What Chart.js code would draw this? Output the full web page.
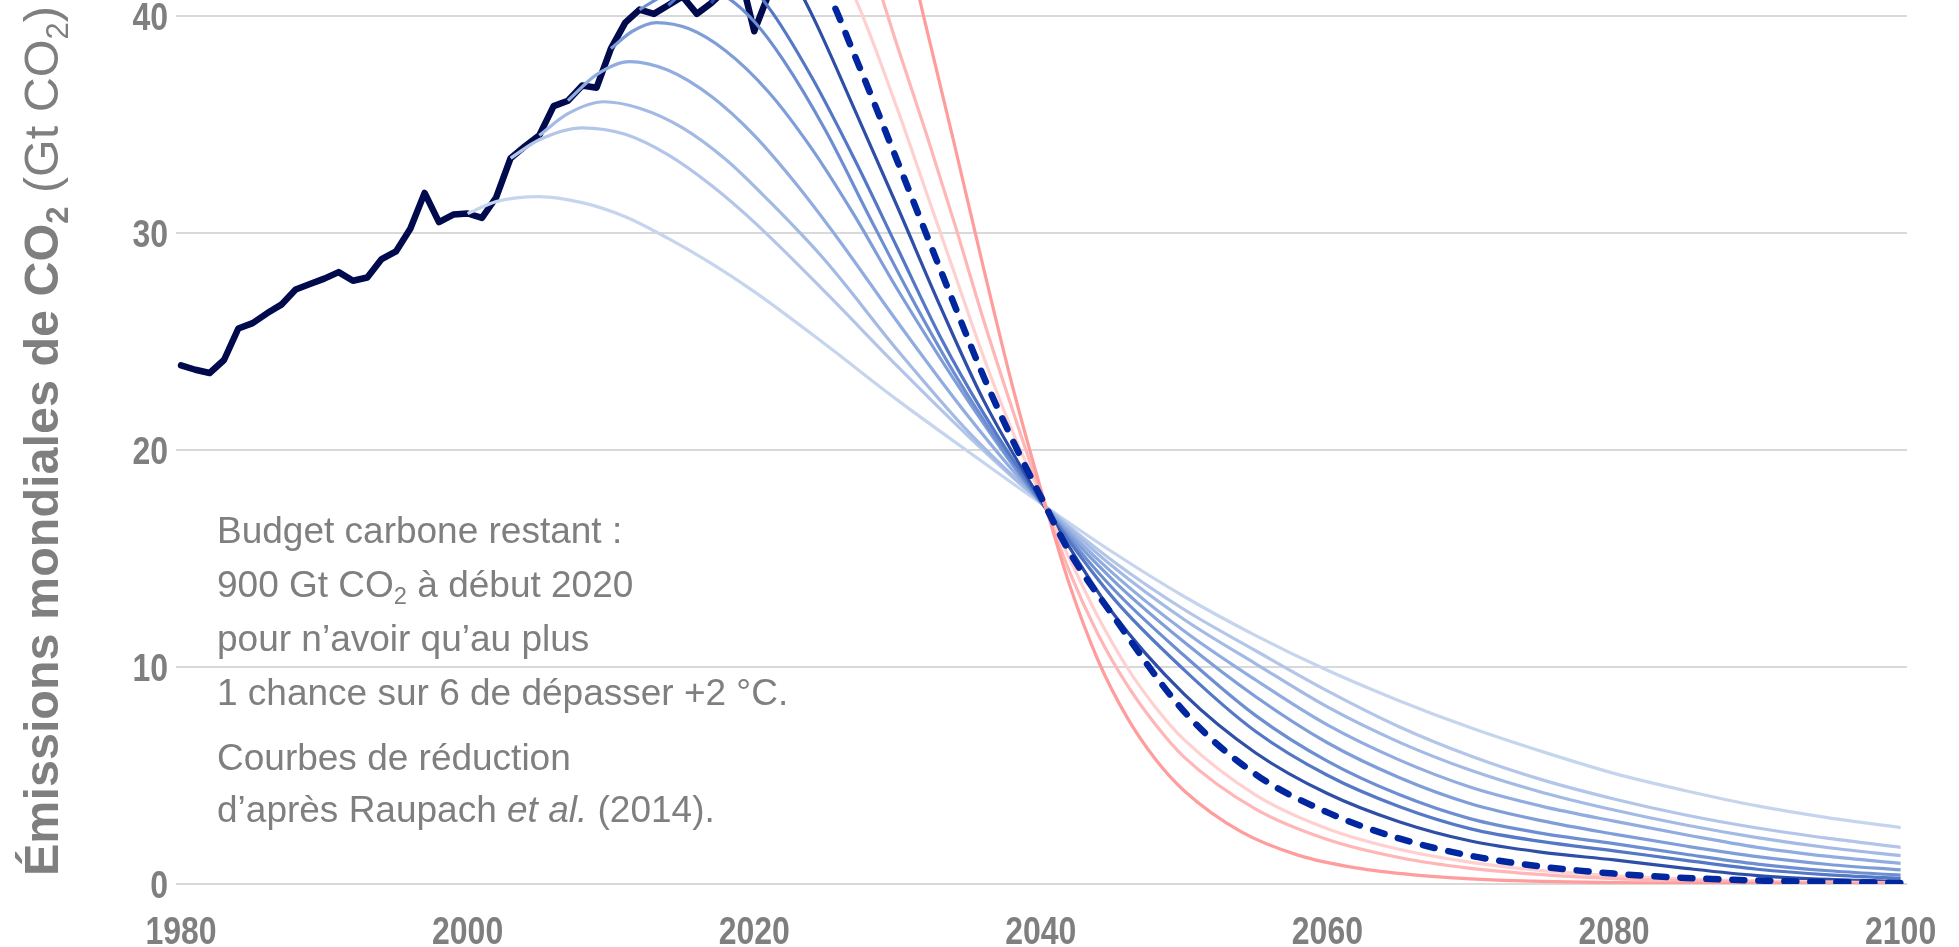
<!DOCTYPE html>
<html lang="fr">
<head>
<meta charset="utf-8">
<title>Émissions mondiales de CO₂</title>
<script src="https://cdn.jsdelivr.net/npm/chart.js@4.4.1/dist/chart.umd.min.js"></script>
<style>
  html, body { margin: 0; padding: 0; background: #ffffff; }
  #wrap { position: relative; width: 1959px; height: 947px; }
  canvas { display: block; }
</style>
</head>
<body>
<div id="wrap"><canvas id="chart" width="1959" height="947"></canvas></div>
<script>
// ---- Axis ticks ----
const xTickYears = [1980, 2000, 2020, 2040, 2060, 2080, 2100];
const yTickValues = [0, 10, 20, 30, 40];

// ---- Observed global CO2 emissions (Gt CO2) ----
const histYears = [1980, 1981, 1982, 1983, 1984, 1985, 1986, 1987, 1988, 1989,
                   1990, 1991, 1992, 1993, 1994, 1995, 1996, 1997, 1998, 1999,
                   2000, 2001, 2002, 2003, 2004, 2005, 2006, 2007, 2008, 2009,
                   2010, 2011, 2012, 2013, 2014, 2015, 2016, 2017, 2018, 2019,
                   2020, 2021];
const histValues = [23.9, 23.7, 23.55, 24.15, 25.6, 25.85, 26.3, 26.7, 27.4, 27.65,
                    27.9, 28.2, 27.8, 27.95, 28.8, 29.15, 30.2, 31.85, 30.5, 30.85,
                    30.9, 30.7, 31.65, 33.45, 34.0, 34.5, 35.85, 36.1, 36.8, 36.7,
                    38.5, 39.7, 40.3, 40.1, 40.5, 40.9, 40.1, 40.6, 41.2, 42.0,
                    39.3, 41.0];

// ---- Reduction pathways [year, Gt CO2], one per starting year ----
const path2000 = [[2000, 30.9], [2002, 31.45], [2005, 31.68], [2008, 31.4], [2011, 30.75],
  [2014, 29.75], [2017, 28.6], [2020, 27.3], [2025, 24.85], [2030, 22.3], [2035, 19.9],
  [2040, 17.55], [2045, 15.3], [2050, 13.25], [2055, 11.45], [2060, 9.85], [2065, 8.45],
  [2070, 7.2], [2075, 6.1], [2080, 5.1], [2085, 4.3], [2090, 3.6], [2095, 3.05], [2100, 2.6]];
const path2003 = [[2003, 33.45], [2005, 34.3], [2008, 34.85], [2011, 34.55], [2014, 33.6],
  [2017, 32.2], [2020, 30.5], [2025, 27.25], [2030, 23.85], [2035, 20.6], [2040, 17.6],
  [2045, 14.9], [2050, 12.65], [2055, 10.75], [2060, 8.9], [2065, 7.25], [2070, 5.9],
  [2075, 4.8], [2080, 3.92], [2085, 3.18], [2090, 2.58], [2095, 2.1], [2100, 1.69]];
const path2005 = [[2005, 34.5], [2007, 35.5], [2009.5, 36.05], [2012, 35.75], [2015, 34.85],
  [2018, 33.4], [2021, 31.5], [2025, 28.7], [2030, 24.6], [2035, 20.8], [2040, 17.6],
  [2045, 14.64], [2050, 12.19], [2055, 10.15], [2060, 8.16], [2065, 6.54], [2070, 5.24],
  [2075, 4.22], [2080, 3.41], [2085, 2.72], [2090, 2.14], [2095, 1.67], [2100, 1.31]];
const path2007 = [[2007, 36.1], [2009, 37.3], [2011.3, 37.9], [2014, 37.5], [2017, 36.3],
  [2020, 34.5], [2023, 32.2], [2026, 29.6], [2030, 25.9], [2035, 21.5], [2040, 17.6],
  [2045, 14.34], [2050, 11.66], [2055, 9.4], [2060, 7.33], [2065, 5.72], [2070, 4.46],
  [2075, 3.58], [2080, 2.9], [2085, 2.27], [2090, 1.69], [2095, 1.27], [2100, 0.95]];
const path2010 = [[2010, 38.5], [2011.5, 39.3], [2013.2, 39.7], [2015.5, 39.4], [2018, 38.4],
  [2021, 36.5], [2024, 33.9], [2027, 30.8], [2030, 27.4], [2035, 22.2], [2040, 17.6],
  [2045, 14.03], [2050, 11.15], [2055, 8.63], [2060, 6.51], [2065, 4.91], [2070, 3.7],
  [2075, 2.91], [2080, 2.3], [2085, 1.75], [2090, 1.26], [2095, 0.9], [2100, 0.65]];
const path2012 = [[2012, 40.3], [2014, 41.05], [2016, 41.35], [2018, 40.9], [2020, 39.75],
  [2022, 38.0], [2025, 34.7], [2028, 30.8], [2031, 27.0], [2034, 23.5], [2037, 20.4],
  [2040, 17.6], [2045, 13.64], [2050, 10.53], [2055, 7.76], [2060, 5.66], [2065, 4.12],
  [2070, 3.0], [2075, 2.33], [2080, 1.86], [2085, 1.37], [2090, 0.92], [2095, 0.61], [2100, 0.41]];
const path2014 = [[2014, 40.5], [2016, 41.6], [2018.5, 42.1], [2021, 40.4], [2024, 37.2],
  [2027, 33.4], [2030, 29.3], [2033, 25.2], [2036, 21.7], [2040, 17.65], [2045, 13.22],
  [2050, 9.87], [2055, 7.03], [2060, 5.01], [2065, 3.57], [2070, 2.54], [2075, 1.95],
  [2080, 1.53], [2085, 1.09], [2090, 0.68], [2095, 0.42], [2100, 0.26]];
const path2017 = [[2017, 40.6], [2019, 42.2], [2021, 42.7], [2022.5, 41.9], [2024, 40.1],
  [2027, 35.7], [2030, 31.2], [2033, 26.6], [2036, 22.3], [2040, 17.7], [2045, 12.51],
  [2050, 8.75], [2055, 6.04], [2060, 4.17], [2065, 2.87], [2070, 1.98], [2075, 1.46],
  [2080, 1.11], [2085, 0.72], [2090, 0.39], [2095, 0.21], [2100, 0.11]];
const path2021 = [[2021, 41.0], [2023, 42.4], [2025, 41.2], [2027, 38.2], [2030, 33.3],
  [2033, 28.3], [2036, 23.4], [2038, 20.5], [2040, 17.85], [2042, 15.3], [2045, 12.4],
  [2050, 7.95], [2055, 5.05], [2060, 3.3], [2065, 2.1], [2070, 1.3], [2075, 0.8],
  [2080, 0.48], [2085, 0.28], [2090, 0.16], [2095, 0.09], [2100, 0.05]];
const delayedA = [[2021, 41.0], [2023, 43.2], [2025, 43.3], [2027, 40.9], [2030, 35.7],
  [2032, 31.9], [2034, 28.1], [2036, 24.3], [2038, 20.9], [2040, 17.9], [2042, 15.0],
  [2044, 12.3], [2046, 10.0], [2048, 8.15], [2050, 6.65], [2055, 4.1], [2060, 2.55],
  [2065, 1.6], [2070, 1.0], [2075, 0.62], [2080, 0.38], [2090, 0.14], [2100, 0.05]];
const delayedB = [[2021, 41.0], [2024, 44.8], [2026, 45.3], [2028, 42.6], [2030, 38.6],
  [2032, 34.6], [2034, 30.4], [2036, 26.0], [2038, 21.9], [2040, 18.0], [2042, 14.4],
  [2044, 11.5], [2046, 9.2], [2048, 7.35], [2050, 5.85], [2055, 3.45], [2060, 2.05],
  [2065, 1.22], [2070, 0.72], [2075, 0.43], [2080, 0.25], [2090, 0.09], [2100, 0.03]];
const delayedC = [[2021, 41.0], [2025, 46.5], [2028, 47.4], [2030, 44.8], [2032, 39.5],
  [2034, 34.0], [2036, 28.4], [2038, 23.0], [2040, 18.2], [2042, 13.8], [2044, 10.3],
  [2046, 7.7], [2048, 5.75], [2050, 4.3], [2054, 2.4], [2058, 1.32], [2062, 0.74],
  [2066, 0.42], [2070, 0.24], [2075, 0.12], [2085, 0.03], [2100, 0.0]];

// ---- Styling ----
const GREY = '#7f7f7f';
const NAVY = '#000a4d';
const TEXT_FONT = '"Liberation Sans", Arial, Helvetica, sans-serif';

const bluePaths = [path2000, path2003, path2005, path2007, path2010, path2012, path2014, path2017];
const blueShades = ['#c6d5ee', '#b3c6e9', '#a3bae4', '#91ace0', '#7f9ed9', '#6d8fd2', '#5478c6', '#2f4ea8'];
const delayedPaths = [delayedA, delayedB, delayedC];
const pinkShades = ['#ffd0d0', '#ffb6b6', '#ff9c9c'];

const toPoints = pairs => pairs.map(([x, y]) => ({ x, y }));

const datasets = [];
datasets.push({
  label: 'Émissions observées',
  data: histYears.map((yr, i) => ({ x: yr, y: histValues[i] })),
  borderColor: NAVY,
  borderWidth: 6.5,
  borderJoinStyle: 'round',
  borderCapStyle: 'round',
  tension: 0,
  order: 100
});
bluePaths.forEach((p, i) => {
  datasets.push({
    label: 'Trajectoire ' + p[0][0],
    data: toPoints(p),
    borderColor: blueShades[i],
    borderWidth: 3.2,
    cubicInterpolationMode: 'monotone',
    order: 40 - i
  });
});
delayedPaths.forEach((p, i) => {
  datasets.push({
    label: 'Trajectoire retardée ' + (i + 1),
    data: toPoints(p),
    borderColor: pinkShades[i],
    borderWidth: 3.2,
    cubicInterpolationMode: 'monotone',
    order: 10 - i
  });
});
datasets.push({
  label: 'Trajectoire 2021',
  data: toPoints(path2021),
  borderColor: '#0026a0',
  borderWidth: 6.5,
  borderDash: [12, 14],
  borderCapStyle: 'round',
  cubicInterpolationMode: 'monotone',
  order: 1
});

// Draws a run of text segments (bold / italic / subscript) starting at (x, y).
function drawRich(ctx, x, y, parts, size, color) {
  let cx = x;
  ctx.fillStyle = color;
  ctx.textBaseline = 'alphabetic';
  ctx.textAlign = 'left';
  parts.forEach(p => {
    const s = p.sub ? size * 0.64 : size;
    ctx.font = (p.italic ? 'italic ' : '') + (p.bold ? 'bold ' : '') + s + 'px ' + TEXT_FONT;
    ctx.fillText(p.t, cx, y + (p.sub ? size * 0.2 : 0));
    cx += ctx.measureText(p.t).width;
  });
  return cx - x;
}

// Narrow bold label: the bold face squeezed horizontally.
function drawNarrow(ctx, text, x, y, align) {
  ctx.save();
  ctx.translate(x, y);
  ctx.scale(0.82, 1);
  ctx.font = 'bold 39px ' + TEXT_FONT;
  ctx.fillStyle = GREY;
  ctx.textAlign = align;
  ctx.textBaseline = 'alphabetic';
  ctx.fillText(text, 0, 0);
  ctx.restore();
}

const axisTitle = [
  { t: 'Émissions mondiales de CO', bold: true },
  { t: '2', bold: true, sub: true },
  { t: ' (Gt CO' },
  { t: '2', sub: true },
  { t: ')' }
];

const noteLines = [
  [{ t: 'Budget carbone restant :' }],
  [{ t: '900 Gt CO' }, { t: '2', sub: true }, { t: ' à début 2020' }],
  [{ t: 'pour n’avoir qu’au plus' }],
  [{ t: '1 chance sur 6 de dépasser +2 °C.' }],
  [{ t: 'Courbes de réduction' }],
  [{ t: 'd’après Raupach ' }, { t: 'et al.', italic: true }, { t: ' (2014).' }]
];
const noteBaselines = [543, 597, 651, 705, 770, 822];

const textPlugin = {
  id: 'chartTexts',
  afterDraw(chart) {
    const ctx = chart.ctx;
    const xs = chart.scales.x;
    const ys = chart.scales.y;

    // tick labels at the scales' own tick positions
    xs.ticks.forEach(t => drawNarrow(ctx, String(t.value), xs.getPixelForValue(t.value), 944, 'center'));
    ys.ticks.forEach(t => drawNarrow(ctx, String(t.value), 168, ys.getPixelForValue(t.value) + 14, 'right'));

    // rotated axis title
    ctx.save();
    ctx.translate(58, 876);
    ctx.rotate(-Math.PI / 2);
    drawRich(ctx, 0, 0, axisTitle, 48.5, GREY);
    ctx.restore();

    // note
    ctx.save();
    noteLines.forEach((line, i) => drawRich(ctx, 217, noteBaselines[i], line, 37, GREY));
    ctx.restore();
  }
};

new Chart(document.getElementById('chart'), {
  type: 'line',
  data: { datasets },
  plugins: [textPlugin],
  options: {
    responsive: false,
    animation: false,
    events: [],
    layout: { padding: { top: 0, right: 37, bottom: 0, left: 0 } },
    elements: { point: { radius: 0 }, line: { fill: false } },
    plugins: { legend: { display: false }, tooltip: { enabled: false } },
    scales: {
      x: {
        type: 'linear',
        min: 1979.65,
        max: 2100.45,
        grid: { display: false, drawTicks: false },
        border: { display: false },
        ticks: {
          color: 'rgba(0,0,0,0)',
          font: { family: TEXT_FONT, size: 38, weight: 'bold' },
          padding: 16,
          maxRotation: 0,
          autoSkip: false,
          callback: v => String(v)
        },
        afterBuildTicks: s => { s.ticks = xTickYears.map(v => ({ value: v })); },
        afterFit: s => { s.height = 63; }
      },
      y: {
        min: 0,
        max: 40.74,
        grid: { color: '#d9d9d9', lineWidth: 2, drawTicks: false },
        border: { display: false },
        ticks: {
          color: 'rgba(0,0,0,0)',
          font: { family: TEXT_FONT, size: 38, weight: 'bold' },
          padding: 9,
          callback: v => String(v)
        },
        afterBuildTicks: s => { s.ticks = yTickValues.map(v => ({ value: v })); },
        afterFit: s => { s.width = 176; s.paddingTop = 0; s.paddingBottom = 0; }
      }
    }
  }
});
</script>
</body>
</html>
